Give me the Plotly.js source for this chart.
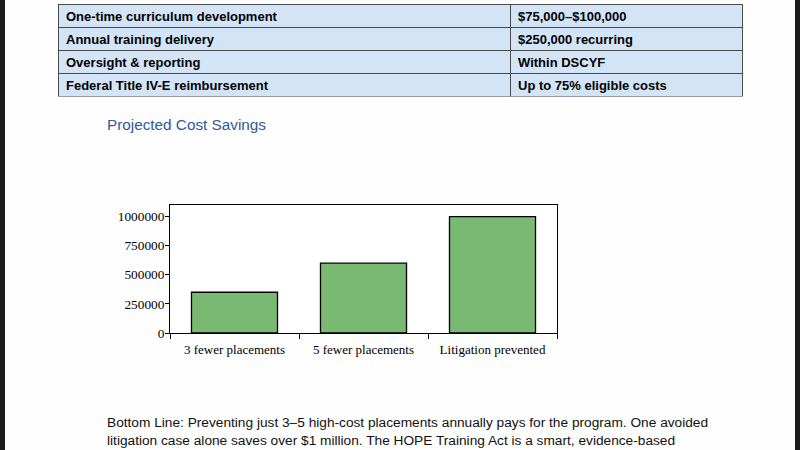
<!DOCTYPE html>
<html>
<head>
<meta charset="utf-8">
<script src="https://cdn.plot.ly/plotly-3.0.1.min.js"></script>
<style>
html,body{margin:0;padding:0;background:#fff;}
#chart{width:800px;height:450px;}
</style>
</head>
<body>
<div id="chart"></div>
<script>
// Table data
const costItems = ["One-time curriculum development", "Annual training delivery", "Oversight & reporting", "Federal Title IV-E reimbursement"];
const costValues = ["$75,000–$100,000", "$250,000 recurring", "Within DSCYF", "Up to 75% eligible costs"];

// Chart data
const categories = ["3 fewer placements", "5 fewer placements", "Litigation prevented"];
const savings = [350000, 600000, 1000000];
const yTickVals = [0, 250000, 500000, 750000, 1000000];

const headingText = "Projected Cost Savings";
const bottomLines = [
  "Bottom Line: Preventing just 3–5 high-cost placements annually pays for the program. One avoided",
  "litigation case alone saves over $1 million. The HOPE Training Act is a smart, evidence-based",
  "investment that protects children and saves taxpayer dollars."
];

const W = 800, H = 450;
const px = x => x / W;
const py = y => 1 - y / H;

const tableFont = {family: "Liberation Sans, Arial, sans-serif", size: 13, color: "#000", weight: "bold"};
const tableFill = "#d4e4f7";
const tableLine = {color: "#4a4a4a", width: 1};
const tableTop = 4, rowH = 23.2;

// one single-row table per row (cell boxes); cell texts are placed as annotations
const tableTraces = costItems.map((item, i) => ({
  type: "table",
  domain: {x: [px(58), px(742)], y: [py(tableTop + (i + 1) * rowH + 0.5), py(tableTop + i * rowH)]},
  columnwidth: [452, 232],
  header: {
    values: ["", ""],
    height: rowH,
    fill: {color: tableFill},
    line: tableLine,
    font: tableFont
  },
  cells: {
    values: [[], []],
    height: rowH,
    line: {width: 0},
    fill: {color: "rgba(0,0,0,0)"}
  }
}));

const barTrace = {
  type: "bar",
  x: categories,
  y: savings,
  marker: {color: "#79b972", line: {color: "#000", width: 1.3}},
  xaxis: "x",
  yaxis: "y",
  hoverinfo: "none"
};

const annotations = [
  {
    text: headingText, xref: "paper", yref: "paper",
    x: px(105), y: py(124), xanchor: "left", yanchor: "middle",
    showarrow: false,
    font: {family: "Liberation Sans, Arial, sans-serif", size: 15.3, color: "#2d5a9b"}
  }
];
costItems.forEach((item, i) => {
  const yc = py(tableTop + i * rowH + 12);
  annotations.push({
    text: item.replace(/&/g, "&amp;"), xref: "paper", yref: "paper",
    x: px(64), y: yc, xanchor: "left", yanchor: "middle",
    showarrow: false, font: tableFont
  });
  annotations.push({
    text: costValues[i], xref: "paper", yref: "paper",
    x: px(516), y: yc, xanchor: "left", yanchor: "middle",
    showarrow: false, font: tableFont
  });
});
const lineYs = [422, 440, 456];
bottomLines.forEach((t, i) => {
  annotations.push({
    text: t, xref: "paper", yref: "paper",
    x: px(105), y: py(lineYs[i]), xanchor: "left", yanchor: "middle",
    showarrow: false,
    font: {family: "Liberation Sans, Arial, sans-serif", size: 13.7, color: "#111"}
  });
});

const layout = {
  width: W, height: H,
  margin: {l: 0, r: 0, t: 0, b: 0},
  paper_bgcolor: "#fefefe",
  plot_bgcolor: "#fff",
  showlegend: false,
  bargap: 0.333,
  xaxis: {
    domain: [px(170), px(557)],
    anchor: "y",
    type: "category",
    showline: true, mirror: true, linecolor: "#000", linewidth: 1,
    ticks: "outside", ticklen: 5, tickcolor: "#000", tickwidth: 1,
    tickson: "boundaries",
    ticklabelstandoff: 4,
    showgrid: false, zeroline: false,
    tickfont: {family: "Liberation Serif, Times New Roman, serif", size: 13, color: "#000"}
  },
  yaxis: {
    domain: [py(333), py(205)],
    anchor: "x",
    range: [0, 1100000],
    tickvals: yTickVals,
    tickformat: "d",
    showline: true, mirror: true, linecolor: "#000", linewidth: 1,
    ticks: "outside", ticklen: 4, tickcolor: "#000", tickwidth: 1,
    ticklabelstandoff: -2,
    showgrid: false, zeroline: false,
    tickfont: {family: "Liberation Serif, Times New Roman, serif", size: 13.3, color: "#000"}
  },
  annotations: annotations,
  shapes: [
    {type: "rect", xref: "paper", yref: "paper", x0: 0, x1: px(5), y0: 0, y1: 1, fillcolor: "#1c1c1c", line: {width: 0}, layer: "above"},
    {type: "rect", xref: "paper", yref: "paper", x0: px(795), x1: 1, y0: 0, y1: 1, fillcolor: "#1c1c1c", line: {width: 0}, layer: "above"}
  ]
};

Plotly.newPlot("chart", tableTraces.concat([barTrace]), layout, {displayModeBar: false, staticPlot: true});
</script>
</body>
</html>
